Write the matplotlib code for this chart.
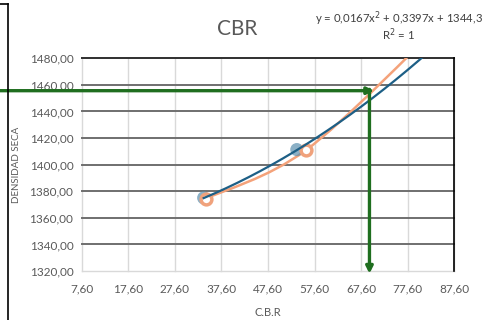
import numpy as np
import matplotlib
matplotlib.use("Agg")
import matplotlib.pyplot as plt
from matplotlib.lines import Line2D
from matplotlib.path import Path
from matplotlib.patches import PathPatch

plt.rcParams['font.family'] = ['Lato', 'DejaVu Sans']

# Data
blue_x = [33.8, 53.8]
blue_y = [1375.0, 1411.3]
orange_x = [34.3, 55.8, 84.0]
orange_y = [1374.5, 1411.0, 1503.0]
trend_coef = [0.0167, 0.3397, 1344.3]   # y = a x^2 + b x + c
trend_range = [33.8, 82.0]
cbr_x = 69.4
cbr_y = 1455.6
x_ticks = [7.6, 17.6, 27.6, 37.6, 47.6, 57.6, 67.6, 77.6, 87.6]
y_ticks = [1320, 1340, 1360, 1380, 1400, 1420, 1440, 1460, 1480]

def fmt(v):
    return f"{v:.2f}".replace(".", ",")

fig = plt.figure(figsize=(4.85, 3.2), dpi=100)
ax = fig.add_axes([0.1685, 0.153, 0.768, 0.665])
ax.set_xlim(7.6, 87.6)
ax.set_ylim(1320, 1480)
ax.set_xticks(x_ticks)
ax.set_yticks(y_ticks)
ax.set_xticklabels([fmt(v) for v in x_ticks])
ax.set_yticklabels([fmt(v) for v in y_ticks])
ax.tick_params(axis='y', length=0, labelsize=8.5, colors='#595959', pad=6)
ax.tick_params(axis='x', length=0, labelsize=8.5, colors='#595959', pad=9)

for v in x_ticks:
    ax.axvline(v, color='#d9d9d9', lw=1, zorder=0, clip_on=False)
for v in y_ticks[1:]:
    ax.axhline(v, color='#6f6f6f', lw=1.4, zorder=0.5, clip_on=False)
for s in ['left', 'bottom', 'top']:
    ax.spines[s].set_visible(False)
ax.spines['right'].set_color('black')
ax.spines['right'].set_linewidth(1.2)
ax.axhline(1320, color='#d9d9d9', lw=1, zorder=0.4, clip_on=False)
ax.axhline(1480, color='#333333', lw=1.4, zorder=0.6, clip_on=False)

# orange smooth line (Excel-style Bezier smoothing)
P = np.column_stack([orange_x, orange_y])
verts = [P[0]]
codes = [Path.MOVETO]
n = len(P)
for i in range(n - 1):
    p0 = P[i - 1] if i > 0 else P[i]
    p1 = P[i]
    p2 = P[i + 1]
    p3 = P[i + 2] if i + 2 < n else P[i + 1]
    c1 = p1 + (p2 - p0) / 6
    c2 = p2 - (p3 - p1) / 6
    verts += [c1, c2, p2]
    codes += [Path.CURVE4] * 3
patch = PathPatch(Path(verts, codes), facecolor='none', edgecolor='#f4a27a', lw=1.8, zorder=2)
ax.add_patch(patch)

# markers
ax.scatter(blue_x, blue_y, s=90, color='#5a8fae', alpha=0.7, zorder=3, edgecolors='none')
ax.scatter(orange_x, orange_y, s=60, facecolors='white', edgecolors='#f0a27c', linewidths=2.5, zorder=3)

# trendline
tx = np.linspace(trend_range[0], trend_range[1], 200)
ty = np.polyval(trend_coef, tx)
ax.plot(tx, ty, color='#1d5f86', lw=1.6, zorder=4)

# green arrows
green = '#1f6e1f'
ax.annotate('', xy=(cbr_x + 1.0, cbr_y), xycoords='data',
            xytext=(0.0, cbr_y), textcoords=('figure fraction', 'data'),
            arrowprops=dict(arrowstyle='-|>', color=green, lw=2.4, mutation_scale=10,
                            shrinkA=0, shrinkB=0), annotation_clip=False, zorder=5)
ax.annotate('', xy=(cbr_x, 1318), xycoords='data',
            xytext=(cbr_x, cbr_y + 1), textcoords='data',
            arrowprops=dict(arrowstyle='-|>', color=green, lw=2.4, mutation_scale=10,
                            shrinkA=0, shrinkB=0), annotation_clip=False, zorder=5)

ax.set_xlabel('C.B.R', fontsize=8, color='#595959', labelpad=9)
fig.text(16.5/485, 1 - 165/320, 'DENSIDAD SECA', fontsize=7, color='#595959',
         rotation=90, ha='center', va='center')

fig.text(0.49, 0.91, 'CBR', fontsize=15, color='#595959', ha='center', va='center')
fig.text(0.822, 0.943, 'y = 0,0167x$^2$ + 0,3397x + 1344,3', fontsize=8.2, color='#404040', ha='center', va='center')
fig.text(0.822, 0.893, 'R$^2$ = 1', fontsize=8.2, color='#404040', ha='center', va='center')

# left border lines
fig.add_artist(Line2D([8/485, 8/485], [1 - 4/320, 0], color='black', lw=1.2, transform=fig.transFigure))
fig.add_artist(Line2D([0, 8/485], [1 - 4/320, 1 - 4/320], color='black', lw=1.2, transform=fig.transFigure))

fig.savefig('out.png', dpi=100)
